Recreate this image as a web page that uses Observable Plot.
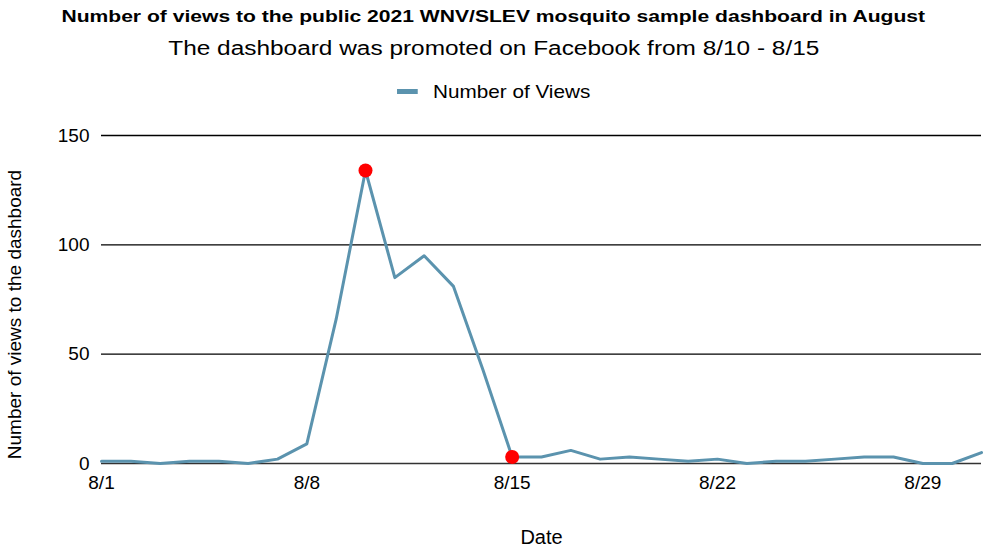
<!DOCTYPE html>
<html>
<head>
<meta charset="utf-8">
<script src="https://cdn.jsdelivr.net/npm/d3@7"></script>
<script src="https://cdn.jsdelivr.net/npm/@observablehq/plot@0.6"></script>
<style>
  html, body { margin: 0; padding: 0; background: #fff; }
  body { width: 987px; font-family: "Liberation Sans", Arial, sans-serif; color: #000; }
  .hdr { position: absolute; left: 0; width: 987px; text-align: center; white-space: nowrap; }
  .hdr span.inner { display: inline-block; }
  #title { top: 7px; font-weight: bold; font-size: 17px; }
  #title span.inner { transform: scaleX(1.24); }
  #subtitle { top: 37px; font-size: 20px; }
  #subtitle span.inner { transform: scaleX(1.22); }
  #legend { top: 81px; font-size: 19px; }
  #legend span.inner { transform: scaleX(1.09); }
  #legend .sw { display: inline-block; width: 19px; height: 5px; background: #5b93ae; vertical-align: middle; margin-right: 14px; position: relative; top: -1px; }
  #chart { position: absolute; top: 110px; left: 0; }
</style>
</head>
<body>
<div id="title" class="hdr"><span class="inner" id="titletext"></span></div>
<div id="subtitle" class="hdr"><span class="inner" id="subtext"></span></div>
<div id="legend" class="hdr"><span class="inner"><span class="sw"></span><span id="legtext"></span></span></div>
<div id="chart"></div>
<script>
const titleText = "Number of views to the public 2021 WNV/SLEV mosquito sample dashboard in August";
const subtitleText = "The dashboard was promoted on Facebook from 8/10 - 8/15";
const seriesName = "Number of Views";
const yLabel = "Number of views to the dashboard";
const xLabel = "Date";

const days = [1,2,3,4,5,6,7,8,9,10,11,12,13,14,15,16,17,18,19,20,21,22,23,24,25,26,27,28,29,30,31];
const views = [1,1,0,1,1,0,2,9,66,134,85,95,81,43,3,3,6,2,3,2,1,2,0,1,1,2,3,3,0,0,5];
const highlightDays = [10, 15];
const xTicks = [1, 8, 15, 22, 29];
const xTickLabels = ["8/1", "8/8", "8/15", "8/22", "8/29"];
const yTicks = [0, 50, 100, 150];

document.getElementById("titletext").textContent = titleText;
document.getElementById("subtext").textContent = subtitleText;
document.getElementById("legtext").textContent = seriesName;

const data = days.map((d, i) => ({day: d, views: views[i]}));
const highlights = data.filter(d => highlightDays.includes(d.day));

const chart = Plot.plot({
  width: 987,
  height: 437,
  marginLeft: 101,
  marginRight: 6,
  marginTop: 25,
  marginBottom: 84,
  style: {fontFamily: "Liberation Sans, Arial, sans-serif", fontSize: "19px", color: "#000", background: "#fff"},
  x: {domain: [1, 31], label: null},
  y: {domain: [0, 150], label: null},
  marks: [
    Plot.gridY(yTicks.filter(t => t > 0), {stroke: "#000", strokeOpacity: 1, strokeWidth: 1.3}),
    Plot.ruleY([0], {stroke: "#333", strokeWidth: 1.3}),
    Plot.axisY({ticks: yTicks, tickSize: 0, tickPadding: 12, fontSize: 19, label: null}),
    Plot.axisX({ticks: xTicks, tickFormat: d => xTickLabels[xTicks.indexOf(d)], tickSize: 0, tickPadding: 12, fontSize: 19, label: null}),
    Plot.text([yLabel], {frameAnchor: "left", textAnchor: "middle", lineAnchor: "middle", rotate: -90, dx: -87, dy: 15, fontSize: 19}),
    Plot.text([xLabel], {frameAnchor: "bottom", lineAnchor: "middle", dy: 74, fontSize: 20}),
    Plot.line(data, {x: "day", y: "views", stroke: "#5b93ae", strokeWidth: 3}),
    Plot.dot(highlights, {x: "day", y: "views", r: 7, fill: "#ff0000", stroke: "none"})
  ]
});
document.getElementById("chart").appendChild(chart);
</script>
</body>
</html>
